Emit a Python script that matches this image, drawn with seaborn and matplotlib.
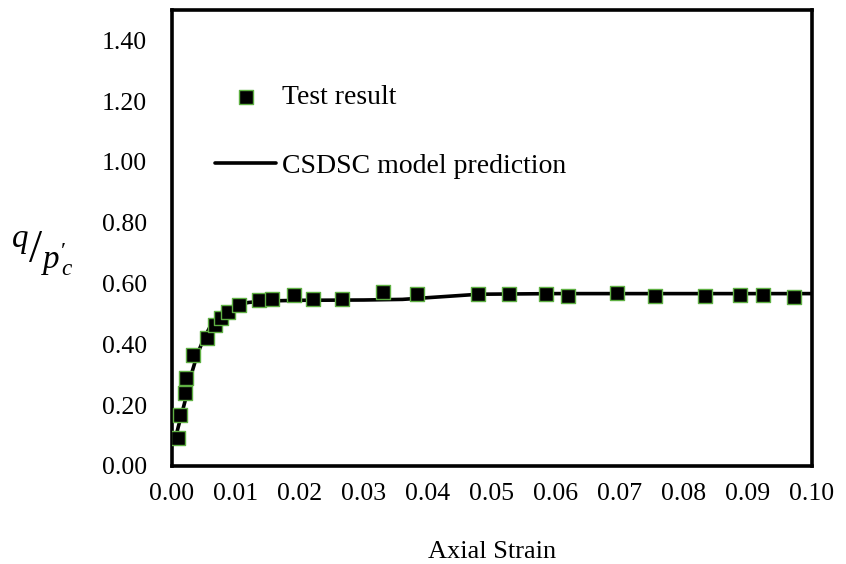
import matplotlib
matplotlib.use("Agg")
import matplotlib.pyplot as plt
import seaborn as sns
import pandas as pd

test_strain = [0.0009, 0.0012, 0.0020, 0.0022, 0.0033, 0.0055, 0.0067, 0.0076, 0.0087,
               0.0104, 0.0136, 0.0157, 0.0190, 0.0221, 0.0266, 0.0329, 0.0383, 0.0478,
               0.0527, 0.0584, 0.0618, 0.0695, 0.0755, 0.0833, 0.0888, 0.0924, 0.0972]
test_q = [0.092, 0.168, 0.240, 0.290, 0.365, 0.420, 0.464, 0.487, 0.507,
          0.530, 0.547, 0.550, 0.563, 0.550, 0.550, 0.573, 0.567, 0.567,
          0.567, 0.567, 0.560, 0.570, 0.560, 0.560, 0.563, 0.563, 0.556]

model_strain = [0.0004, 0.001, 0.002, 0.003, 0.004, 0.005, 0.006, 0.007, 0.008, 0.010,
                0.012, 0.015, 0.020, 0.030, 0.036, 0.048, 0.060, 0.100]
model_q = [0.08, 0.13, 0.21, 0.30, 0.37, 0.42, 0.46, 0.49, 0.51, 0.53,
           0.538, 0.543, 0.545, 0.546, 0.548, 0.565, 0.567, 0.567]

x_ticks = [0.00, 0.01, 0.02, 0.03, 0.04, 0.05, 0.06, 0.07, 0.08, 0.09, 0.10]
y_ticks = [0.00, 0.20, 0.40, 0.60, 0.80, 1.00, 1.20, 1.40]

sns.set_theme(style="white")
plt.rcParams['font.family'] = ['Liberation Serif', 'DejaVu Serif']
plt.rcParams['mathtext.fontset'] = 'custom'
plt.rcParams['mathtext.it'] = 'Liberation Serif:italic'
plt.rcParams['mathtext.rm'] = 'Liberation Serif'

fig = plt.figure(figsize=(8.46, 5.64), dpi=100)
ax = fig.add_axes([0.2033, 0.1738, 0.7565, 0.8085])

df_model = pd.DataFrame({"strain": model_strain, "q": model_q})
df_test = pd.DataFrame({"strain": test_strain, "q": test_q})

sns.lineplot(data=df_model, x="strain", y="q", ax=ax, color="black", lw=2.6,
             label="CSDSC model prediction", zorder=2)
sns.scatterplot(data=df_test, x="strain", y="q", ax=ax, marker="s", s=115,
                color="black", edgecolor="#5fb043", linewidth=1.0,
                label="Test result", zorder=3)

ax.set_xlim(0, 0.10)
ax.set_ylim(0, 1.50)
ax.set_xticks(x_ticks)
ax.set_xticklabels([f"{v:.2f}" for v in x_ticks], fontsize=18.5)
ax.set_yticks(y_ticks)
ax.set_yticklabels([f"{v:.2f}" for v in y_ticks], fontsize=18.5)
ax.tick_params(axis="y", direction="in", length=6, width=2, colors="black", pad=18)
ax.tick_params(axis="x", direction="in", length=6, width=2, colors="black", pad=12)
for t in ax.get_xticklabels() + ax.get_yticklabels():
    t.set_color("black")
for sp in ax.spines.values():
    sp.set_visible(True)
    sp.set_color("black")
    sp.set_linewidth(2.6)

ax.set_xlabel("Axial Strain", fontsize=19, color="black", labelpad=26)
ax.set_ylabel("")
fig.text(0.05, 0.55, r"$^{q}/_{p^{\prime}_{\,c}}$", fontsize=34, ha="center", va="center", color="black")

handles, labels = ax.get_legend_handles_labels()
order = [labels.index("Test result"), labels.index("CSDSC model prediction")]
leg = ax.legend([handles[i] for i in order], [labels[i] for i in order],
                loc="upper left", bbox_to_anchor=(0.046, 0.866), frameon=False,
                fontsize=20, labelspacing=1.55, handlelength=2.2, handletextpad=0.2,
                borderpad=0.0)
leg.legend_handles[0].set_sizes([100])
for t in leg.get_texts():
    t.set_color("black")

fig.savefig("out.png", dpi=100)
